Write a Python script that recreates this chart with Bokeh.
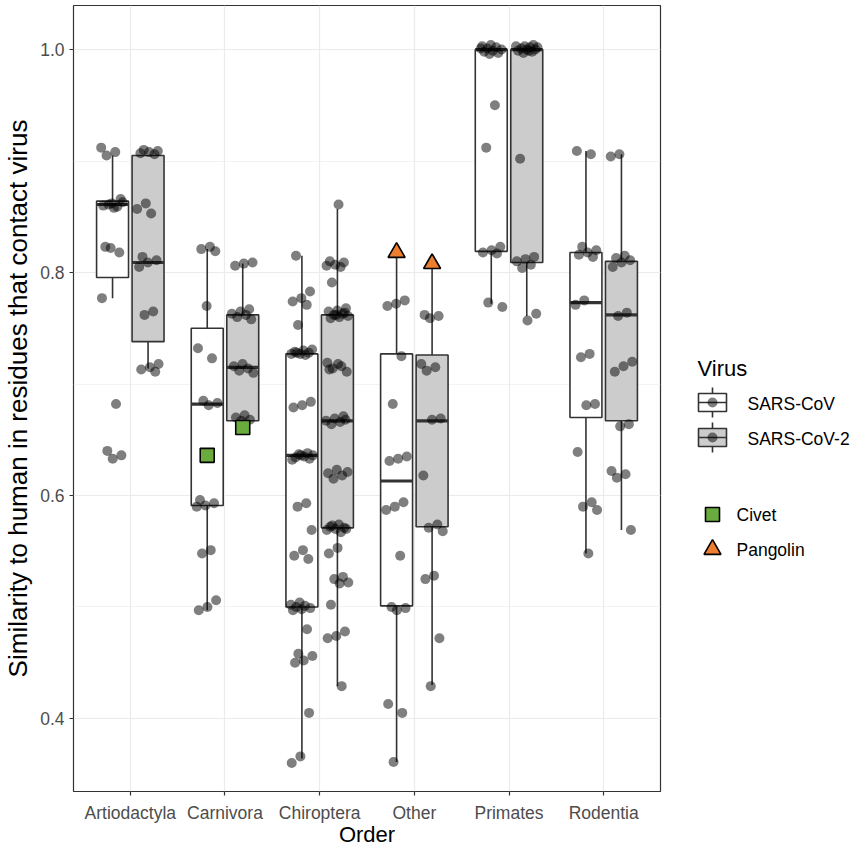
import numpy as np
from bokeh.plotting import figure
from bokeh.layouts import row
from bokeh.models import Range1d, FixedTicker, PrintfTickFormatter, ColumnDataSource
from bokeh.core.properties import value
from bokeh.embed import file_html
from bokeh.resources import INLINE

# ---------------- data ----------------
orders = ["Artiodactyla", "Carnivora", "Chiroptera", "Other", "Primates", "Rodentia"]
viruses = ["SARS-CoV", "SARS-CoV-2"]

# box statistics (one value per order)
cov1_low = [0.777, 0.497, 0.364, 0.361, 0.772, 0.548]
cov1_q1 = [0.7955, 0.591, 0.500, 0.501, 0.819, 0.670]
cov1_med = [0.861, 0.682, 0.636, 0.613, 1.000, 0.773]
cov1_q3 = [0.864, 0.750, 0.727, 0.727, 1.000, 0.818]
cov1_high = [0.905, 0.821, 0.815, 0.818, 1.000, 0.909]

cov2_low = [0.714, 0.667, 0.429, 0.430, 0.761, 0.569]
cov2_q1 = [0.738, 0.667, 0.571, 0.572, 0.809, 0.667]
cov2_med = [0.809, 0.715, 0.667, 0.667, 1.000, 0.762]
cov2_q3 = [0.905, 0.762, 0.762, 0.726, 1.000, 0.810]
cov2_high = [0.905, 0.808, 0.857, 0.808, 1.000, 0.906]

# individual species (jittered points)
art_cov1 = [0.912, 0.908, 0.905, 0.866, 0.862, 0.860, 0.859, 0.861, 0.863, 0.858,
            0.823, 0.818, 0.822, 0.777, 0.682, 0.640, 0.636, 0.633]
art_cov2 = [0.910, 0.909, 0.908, 0.907, 0.906, 0.862, 0.857, 0.853, 0.814, 0.811,
            0.809, 0.805, 0.765, 0.762, 0.718, 0.715, 0.713, 0.711]
car_cov1 = [0.823, 0.821, 0.819, 0.770, 0.732, 0.723, 0.685, 0.683, 0.681, 0.596,
            0.593, 0.591, 0.590, 0.551, 0.548, 0.506, 0.500, 0.497]
car_cov2 = [0.809, 0.808, 0.806, 0.767, 0.765, 0.763, 0.762, 0.760, 0.758, 0.718,
            0.716, 0.714, 0.712, 0.710, 0.672, 0.670, 0.668, 0.667]
chi_cov1 = [0.815, 0.783, 0.777, 0.774, 0.771, 0.753,
            0.731, 0.730, 0.729, 0.728, 0.727, 0.727, 0.726, 0.728,
            0.684, 0.681, 0.679,
            0.638, 0.637, 0.636, 0.635, 0.634, 0.633, 0.636, 0.632,
            0.593, 0.590, 0.569, 0.551, 0.546, 0.543,
            0.504, 0.502, 0.501, 0.500, 0.499, 0.498, 0.497,
            0.480, 0.458, 0.456, 0.452, 0.450, 0.405, 0.366, 0.360]
chi_cov2 = [0.861, 0.810, 0.809, 0.807, 0.806, 0.805, 0.791,
            0.768, 0.766, 0.765, 0.763, 0.762, 0.761, 0.760, 0.759, 0.764, 0.762,
            0.719, 0.716, 0.714, 0.711, 0.718, 0.713,
            0.671, 0.669, 0.667, 0.666, 0.664, 0.668,
            0.623, 0.620, 0.618, 0.615, 0.621,
            0.574, 0.572, 0.571, 0.570, 0.569, 0.567, 0.573, 0.570,
            0.553, 0.548, 0.527, 0.525, 0.522, 0.521,
            0.502, 0.478, 0.474, 0.472, 0.429]
oth_cov1 = [0.775, 0.772, 0.770, 0.725, 0.682, 0.635, 0.633, 0.631, 0.594, 0.590,
            0.587, 0.546, 0.500, 0.499, 0.497, 0.413, 0.405, 0.361]
oth_cov2 = [0.762, 0.761, 0.759, 0.718, 0.715, 0.712, 0.669, 0.668, 0.618, 0.574,
            0.571, 0.568, 0.528, 0.525, 0.472, 0.429]
pri_cov1 = [1.004, 1.003, 1.002, 1.001, 1.000, 0.999, 0.998, 0.997, 0.996, 1.001,
            0.950, 0.912, 0.823, 0.820, 0.818, 0.817, 0.773, 0.769]
pri_cov2 = [1.004, 1.003, 1.003, 1.002, 1.001, 1.000, 1.000, 0.999, 0.998, 0.997,
            1.002, 0.999, 0.902, 0.814, 0.812, 0.810, 0.807, 0.804, 0.763, 0.757]
rod_cov1 = [0.909, 0.906, 0.823, 0.820, 0.818, 0.816, 0.814, 0.775, 0.771, 0.727,
            0.724, 0.682, 0.681, 0.639, 0.594, 0.590, 0.587, 0.548]
rod_cov2 = [0.906, 0.904, 0.815, 0.813, 0.811, 0.809, 0.805, 0.764, 0.761, 0.720,
            0.716, 0.711, 0.664, 0.662, 0.622, 0.619, 0.616, 0.569]

civet_order = "Carnivora"
civet_vals = [0.636, 0.661]      # SARS-CoV, SARS-CoV-2
pangolin_order = "Other"
pangolin_vals = [0.818, 0.808]   # SARS-CoV, SARS-CoV-2

y_ticks = [0.4, 0.6, 0.8, 1.0]
y_minor = [0.5, 0.7, 0.9]

# ---------------- styling constants ----------------
FONT = "Liberation Sans"
DODGE = 0.1875
BOX_W = 0.3375
EDGE = "#333333"
FILLS = ["white", "#CCCCCC"]
GRID = "#EBEBEB"
FRAME_TOP = 5
FRAME_BOTTOM = 791

p = figure(width=662, height=850, x_range=Range1d(0.4, 6.6), y_range=Range1d(0.3345, 1.0395),
           output_backend="svg", toolbar_location=None,
           min_border_left=72, min_border_right=2, min_border_top=FRAME_TOP, min_border_bottom=50)

p.background_fill_color = "white"
p.outline_line_color = EDGE
p.outline_line_width = 1.2

# axes
p.xaxis.ticker = FixedTicker(ticks=list(range(1, len(orders) + 1)))
p.xaxis.major_label_overrides = {i + 1: o for i, o in enumerate(orders)}
p.yaxis.ticker = FixedTicker(ticks=y_ticks, minor_ticks=y_minor)
p.yaxis.formatter = PrintfTickFormatter(format="%.1f")
for ax in (p.xaxis[0], p.yaxis[0]):
    ax.axis_line_color = None
    ax.major_tick_line_color = EDGE
    ax.major_tick_line_width = 1.2
    ax.major_tick_in = 0
    ax.major_tick_out = 4
    ax.minor_tick_line_color = None
    ax.major_label_text_font = FONT
    ax.major_label_text_font_size = "17.5px"
    ax.major_label_text_color = "#4D4D4D"
    ax.axis_label_text_font = FONT
    ax.axis_label_text_font_style = "normal"
    ax.axis_label_text_color = "black"
p.xaxis.axis_label_text_font_size = "22px"
p.yaxis.axis_label_text_font_size = "26px"
p.xaxis.axis_label = "Order"
p.yaxis.axis_label = "Similarity to human in residues that contact virus"
p.xaxis.major_label_standoff = 7
p.xaxis.axis_label_standoff = -4
p.yaxis.major_label_standoff = 5
p.yaxis.axis_label_standoff = 4

p.xgrid.grid_line_color = GRID
p.xgrid.grid_line_width = 1.2
p.ygrid.grid_line_color = GRID
p.ygrid.grid_line_width = 1.2
p.ygrid.minor_grid_line_color = GRID
p.ygrid.minor_grid_line_width = 0.6

# ---------------- boxes ----------------
stats = [(cov1_low, cov1_q1, cov1_med, cov1_q3, cov1_high),
         (cov2_low, cov2_q1, cov2_med, cov2_q3, cov2_high)]
base = np.arange(1, len(orders) + 1, dtype=float)
for k, (lo, q1, med, q3, hi) in enumerate(stats):
    xc = base + (2 * k - 1) * DODGE
    src = ColumnDataSource(dict(x=xc, left=xc - BOX_W / 2, right=xc + BOX_W / 2,
                                lo=lo, q1=q1, med=med, q3=q3, hi=hi))
    p.segment(x0="x", y0="q3", x1="x", y1="hi", source=src, line_color=EDGE, line_width=1.6)
    p.segment(x0="x", y0="q1", x1="x", y1="lo", source=src, line_color=EDGE, line_width=1.6)
    p.quad(left="left", right="right", bottom="q1", top="q3", source=src,
           fill_color=FILLS[k], line_color=EDGE, line_width=1.6)
    p.segment(x0="left", y0="med", x1="right", y1="med", source=src,
              line_color=EDGE, line_width=3.2)

# ---------------- jittered points ----------------
groups = [(art_cov1, art_cov2), (car_cov1, car_cov2), (chi_cov1, chi_cov2),
          (oth_cov1, oth_cov2), (pri_cov1, pri_cov2), (rod_cov1, rod_cov2)]
px, py = [], []
for i, pair in enumerate(groups):
    for k, vals in enumerate(pair):
        n = len(vals)
        jit = ((np.arange(n) * 0.6180339887 + 0.31 * (2 * i + k)) % 1.0 - 0.5) * 0.24
        px.extend(list(i + 1 + (2 * k - 1) * DODGE + jit))
        py.extend(vals)
p.scatter(px, py, size=10, fill_color="black", fill_alpha=0.5, line_color=None)

# ---------------- civet / pangolin ----------------
ci = orders.index(civet_order) + 1
pa = orders.index(pangolin_order) + 1
p.scatter([ci - DODGE, ci + DODGE], civet_vals, marker="square", size=14,
          fill_color="#6AAB3E", line_color="black", line_width=1.6)
p.scatter([pa - DODGE, pa + DODGE], pangolin_vals, marker="triangle", size=17,
          fill_color="#EE7E2F", line_color="black", line_width=1.6)

# ---------------- legend panel ----------------
# (its frame is aligned with the main frame by the row layout, so map it to page pixels)
LW = 193
lg = figure(width=LW, height=850, x_range=Range1d(0, LW),
            y_range=Range1d(FRAME_BOTTOM, FRAME_TOP),
            output_backend="svg", toolbar_location=None,
            min_border_left=0, min_border_right=0, min_border_top=FRAME_TOP,
            min_border_bottom=850 - FRAME_BOTTOM)
lg.axis.visible = False
lg.grid.visible = False
lg.outline_line_color = None

kx = 50
key_y = [402, 437]
lg.text([35], [368], text=["Virus"], text_font=value(FONT), text_font_size=value("22px"),
        text_baseline="middle", text_align="left", text_color="black")
for k, yk in enumerate(key_y):
    lg.segment([kx], [yk - 15], [kx], [yk + 15], line_color=EDGE, line_width=1.6)
    lg.quad(left=[kx - 14], right=[kx + 14], top=[yk - 9], bottom=[yk + 9],
            fill_color=FILLS[k], line_color=EDGE, line_width=1.6)
    lg.segment([kx - 14], [yk], [kx + 14], [yk], line_color=EDGE, line_width=1.6)
    lg.scatter([kx], [yk], size=10, fill_color="black", fill_alpha=0.5, line_color=None)
    lg.text([85], [yk + 1], text=[viruses[k]], text_font=value(FONT),
            text_font_size=value("17.5px"), text_baseline="middle", text_align="left",
            text_color="black")

lg.scatter([kx], [514], marker="square", size=14, fill_color="#6AAB3E",
           line_color="black", line_width=1.6)
lg.text([74], [514], text=["Civet"], text_font=value(FONT), text_font_size=value("17.5px"),
        text_baseline="middle", text_align="left", text_color="black")
lg.scatter([kx], [549], marker="triangle", size=17, fill_color="#EE7E2F",
           line_color="black", line_width=1.6)
lg.text([74], [549], text=["Pangolin"], text_font=value(FONT), text_font_size=value("17.5px"),
        text_baseline="middle", text_align="left", text_color="black")

layout = row(p, lg)
open("out.html", "w").write(file_html(layout, INLINE))
